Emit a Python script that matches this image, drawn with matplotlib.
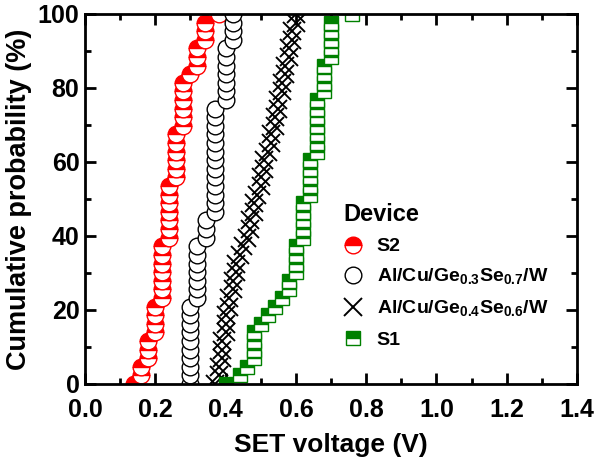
import matplotlib
matplotlib.use("Agg")
import matplotlib.pyplot as plt
from matplotlib.ticker import MultipleLocator
import numpy as np

plt.rcParams['font.family'] = ['Liberation Sans', 'DejaVu Sans']
plt.rcParams['font.weight'] = 'bold'
plt.rcParams['mathtext.fontset'] = 'custom'
plt.rcParams['mathtext.rm'] = 'Liberation Sans'
plt.rcParams['mathtext.bf'] = 'Liberation Sans:bold'

# SET voltages (V), sorted
s2_v = [0.14, 0.16, 0.16, 0.18, 0.18, 0.18, 0.20, 0.20, 0.20, 0.20,
        0.22, 0.22, 0.22, 0.22, 0.22, 0.22, 0.22, 0.24, 0.24, 0.24,
        0.24, 0.24, 0.24, 0.24, 0.26, 0.26, 0.26, 0.26, 0.26, 0.26,
        0.28, 0.28, 0.28, 0.28, 0.28, 0.28, 0.30, 0.32, 0.32, 0.32,
        0.34, 0.34, 0.34, 0.38]
ge37_v = [0.30, 0.30, 0.30, 0.30, 0.30, 0.30, 0.30, 0.30, 0.30, 0.30,
          0.32, 0.32, 0.32, 0.32, 0.32, 0.32, 0.32, 0.345, 0.345, 0.345,
          0.37, 0.37, 0.37, 0.37, 0.37, 0.37, 0.37, 0.37, 0.37, 0.37,
          0.37, 0.37, 0.37, 0.40, 0.40, 0.40, 0.40, 0.40, 0.40, 0.40,
          0.42, 0.42, 0.42, 0.42]
ge46_v = [0.37, 0.38, 0.38, 0.39, 0.39, 0.39, 0.40, 0.40, 0.40, 0.41,
          0.41, 0.42, 0.42, 0.43, 0.43, 0.44, 0.45, 0.46, 0.47, 0.47,
          0.48, 0.48, 0.49, 0.50, 0.50, 0.51, 0.51, 0.52, 0.53, 0.53,
          0.54, 0.54, 0.55, 0.55, 0.56, 0.56, 0.57, 0.57, 0.58, 0.58,
          0.59, 0.59, 0.60, 0.60]
s1_v = [0.40, 0.44, 0.46, 0.48, 0.48, 0.48, 0.48, 0.50, 0.52, 0.54,
        0.56, 0.58, 0.58, 0.60, 0.60, 0.60, 0.60, 0.62, 0.62, 0.62,
        0.62, 0.62, 0.64, 0.64, 0.64, 0.64, 0.64, 0.66, 0.66, 0.66,
        0.66, 0.66, 0.66, 0.66, 0.68, 0.68, 0.68, 0.68, 0.70, 0.70,
        0.70, 0.70, 0.70, 0.76]

labels = ['S2',
          r'Al/Cu/Ge$_{\mathrm{0.3}}$Se$_{\mathrm{0.7}}$/W',
          r'Al/Cu/Ge$_{\mathrm{0.4}}$Se$_{\mathrm{0.6}}$/W',
          'S1']
x_ticks = [0.0, 0.2, 0.4, 0.6, 0.8, 1.0, 1.2, 1.4]
y_ticks = [0, 20, 40, 60, 80, 100]


def cum_prob(v):
    n = len(v)
    return np.arange(n) / (n - 1) * 100.0


fig = plt.figure(figsize=(6.0, 4.66), dpi=100)
ax = fig.add_axes([0.1417, 0.176, 0.82, 0.794])

ms = 12
ax.plot(s2_v, cum_prob(s2_v), ls='none', marker='o', ms=ms, fillstyle='top',
        mfc='#ff0000', mfcalt='white', mec='#ff0000', mew=1.0, label=labels[0])
ax.plot(ge37_v, cum_prob(ge37_v), ls='none', marker='o', ms=ms,
        mfc='white', mec='black', mew=1.0, label=labels[1])
ax.plot(ge46_v, cum_prob(ge46_v), ls='none', marker='x', ms=12.5,
        mec='black', mew=1.4, label=labels[2])
ax.plot(s1_v, cum_prob(s1_v), ls='none', marker='s', ms=10.5, fillstyle='top',
        mfc='#008000', mfcalt='white', mec='#008000', mew=1.0, label=labels[3])

ax.set_xlim(0, 1.4)
ax.set_ylim(0, 100)
ax.set_xticks(x_ticks)
ax.set_xticklabels([f'{t:.1f}' for t in x_ticks])
ax.set_yticks(y_ticks)
ax.xaxis.set_minor_locator(MultipleLocator(0.1))
ax.yaxis.set_minor_locator(MultipleLocator(10))
ax.tick_params(which='both', direction='in', top=True, right=True, width=2)
ax.tick_params(which='major', length=8, labelsize=18)
ax.tick_params(which='minor', length=4.5)
ax.tick_params(axis='x', which='major', pad=10)
ax.tick_params(axis='y', which='major', pad=4)
for s in ax.spines.values():
    s.set_linewidth(2)

ax.set_xlabel('SET voltage (V)', fontsize=19, fontweight='bold', labelpad=8)
ax.set_ylabel('Cumulative probability (%)', fontsize=19.5, fontweight='bold', labelpad=4)

leg = ax.legend(loc='upper left', bbox_to_anchor=(0.51, 0.51), frameon=False,
                title='Device', title_fontproperties={'size': 17, 'weight': 'bold'},
                prop={'size': 14, 'weight': 'bold'}, handlelength=1.0,
                handletextpad=0.7, labelspacing=0.6, alignment='left',
                borderaxespad=0)

fig.savefig('out.png', dpi=100)
